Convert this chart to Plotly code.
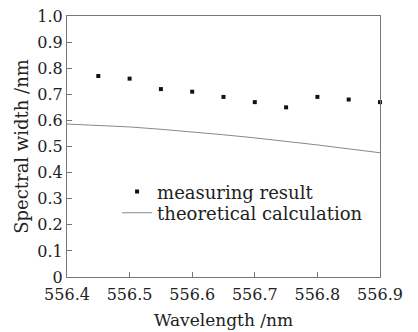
import plotly.graph_objects as go

wl_meas = [556.45, 556.50, 556.55, 556.60, 556.65, 556.70, 556.75, 556.80, 556.85, 556.90]
width_meas = [0.77, 0.76, 0.72, 0.71, 0.69, 0.67, 0.65, 0.69, 0.68, 0.67]
wl_theo = [556.40, 556.45, 556.50, 556.55, 556.60, 556.65, 556.70, 556.75, 556.80, 556.85, 556.90]
width_theo = [0.586, 0.581, 0.575, 0.566, 0.556, 0.545, 0.533, 0.520, 0.506, 0.491, 0.476]
x_ticks = [556.4, 556.5, 556.6, 556.7, 556.8, 556.9]
y_ticks = [0, 0.1, 0.2, 0.3, 0.4, 0.5, 0.6, 0.7, 0.8, 0.9, 1.0]
y_labels = ["0", "0.1", "0.2", "0.3", "0.4", "0.5", "0.6", "0.7", "0.8", "0.9", "1.0"]

font = "DejaVu Serif"
fig = go.Figure()
fig.add_trace(go.Scatter(x=wl_meas, y=width_meas, mode="markers", name="measuring result",
                         marker=dict(symbol="square", size=4, color="#111111"), cliponaxis=False,
                         legend="legend"))
fig.add_trace(go.Scatter(x=wl_theo, y=width_theo, mode="lines", name="theoretical calculation",
                         line=dict(color="#888888", width=1), legend="legend2"))
leg_common = dict(xanchor="left", yanchor="middle", bgcolor="rgba(0,0,0,0)",
                  font=dict(size=18, family=font, color="#222222"), itemwidth=30)
fig.update_layout(
    width=418, height=332,
    margin=dict(l=67, r=38, t=16, b=55, autoexpand=False),
    paper_bgcolor="white", plot_bgcolor="white",
    font=dict(family=font, size=16, color="#222222"),
    showlegend=True,
    legend=dict(x=0.16, y=0.326, **leg_common),
    legend2=dict(x=0.16, y=0.245, **leg_common),
)
fig.update_xaxes(range=[556.4, 556.9], tickvals=x_ticks, ticktext=[f"{v:.1f}" for v in x_ticks],
                 showline=True, linecolor="#777777", linewidth=1, mirror=True, automargin=False,
                 ticks="inside", ticklen=5, tickcolor="#777777", showgrid=False, zeroline=False,
                 tickfont=dict(size=16), ticklabelstandoff=3,
                 title=dict(text="Wavelength /nm", font=dict(size=17), standoff=10))
fig.update_yaxes(range=[0, 1.0], tickvals=y_ticks, ticktext=y_labels,
                 showline=True, linecolor="#777777", linewidth=1, mirror=True, automargin=False,
                 ticks="inside", ticklen=5, tickcolor="#777777", showgrid=False, zeroline=False,
                 tickfont=dict(size=16),
                 title=dict(text="Spectral width /nm", font=dict(size=18), standoff=4))
fig.write_html("out.html", post_script="document.body.style.margin='0px';",
               config={"displayModeBar": False})
